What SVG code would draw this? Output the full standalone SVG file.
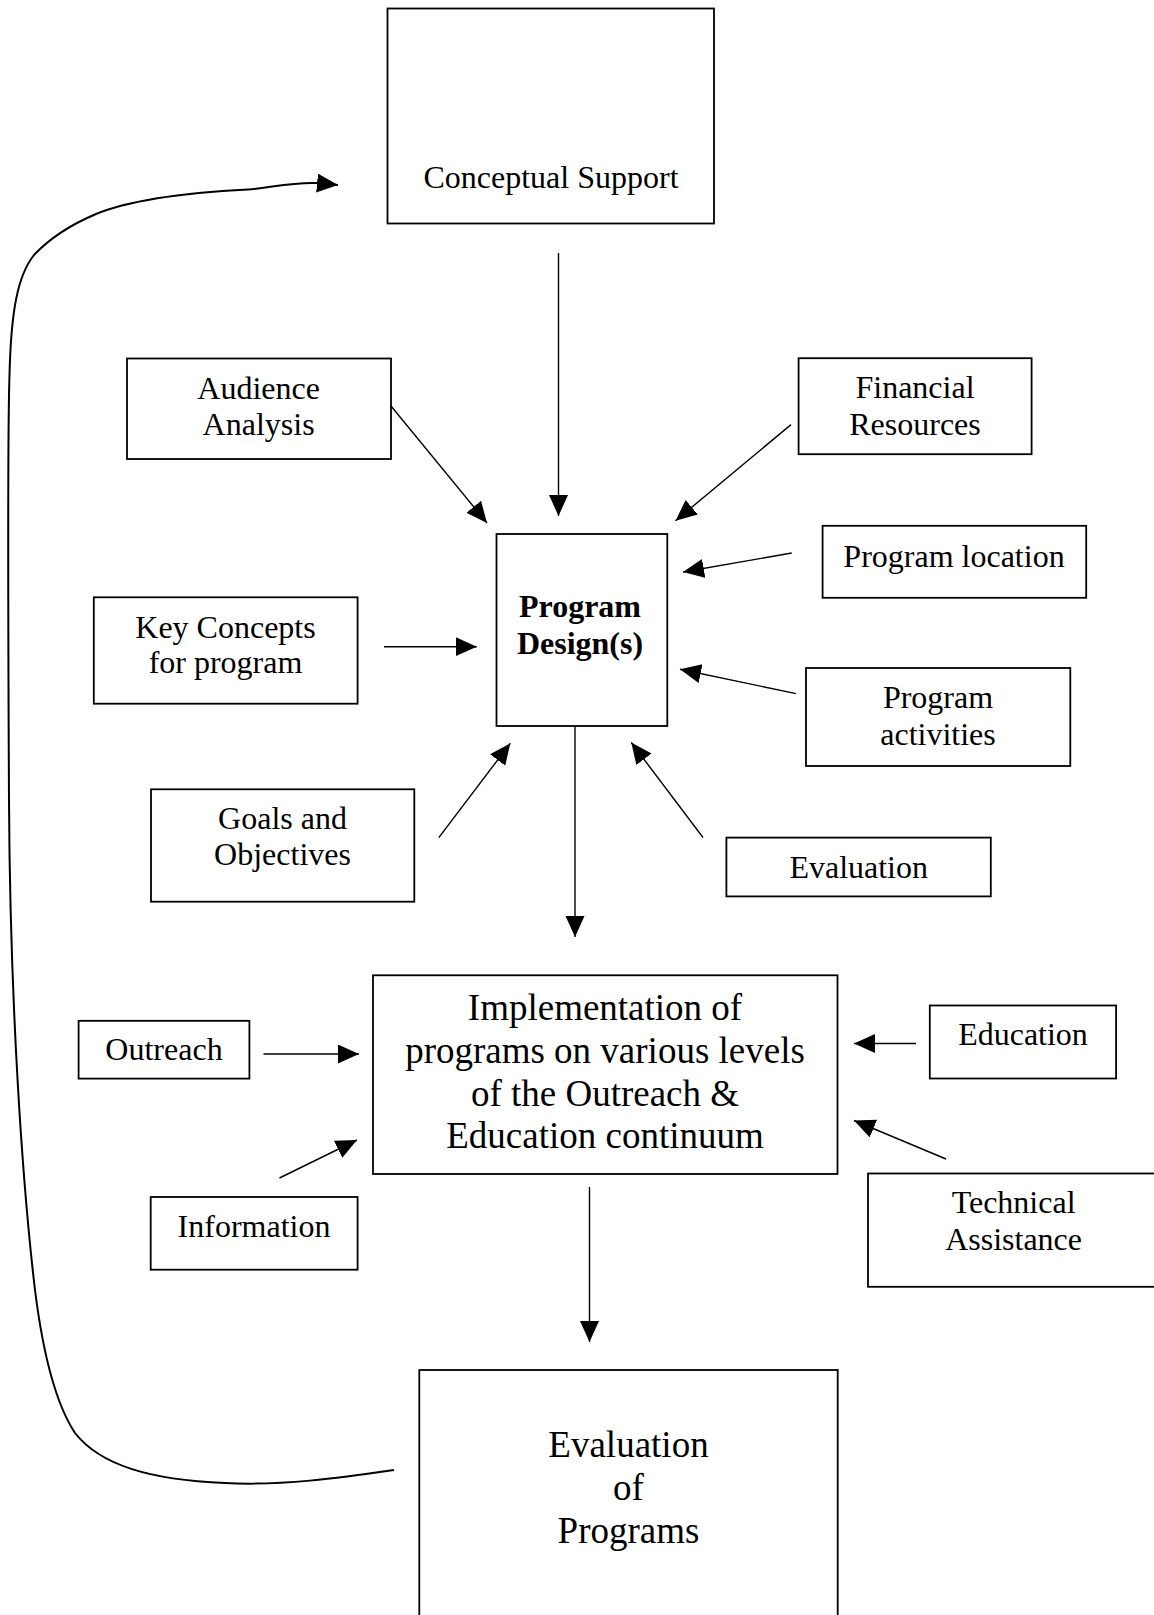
<svg xmlns="http://www.w3.org/2000/svg" width="1154" height="1615" viewBox="0 0 1154 1615">
<style>
.box{fill:#fff;stroke:#000;stroke-width:1.8}
.t{font-family:"Liberation Serif","Times New Roman",serif;font-size:32px;fill:#000;text-anchor:middle}
.tb{font-weight:bold}
.big{font-size:37px}
.c{stroke:#000;stroke-width:1.4;fill:none;marker-end:url(#ah)}
.fb{stroke:#000;stroke-width:2;fill:none;marker-end:url(#ah)}
</style>
<defs>
<marker id="ah" markerUnits="userSpaceOnUse" markerWidth="22" markerHeight="20" refX="21" refY="9.5" orient="auto">
<path d="M0,0 L21,9.5 L0,19 z" fill="#000"/>
</marker>
</defs>
<rect width="1154" height="1615" fill="#fff"/>
<g id="conceptual-support">
<rect class="box" x="387.5" y="8.5" width="326.5" height="215"/>
<text class="t" x="551" y="188">Conceptual Support</text>
</g>
<g id="audience-analysis">
<rect class="box" x="127" y="358.5" width="264" height="100.5"/>
<text class="t" x="258.6" y="399">Audience</text>
<text class="t" x="258.6" y="435">Analysis</text>
</g>
<g id="financial-resources">
<rect class="box" x="798.6" y="358.2" width="233" height="96"/>
<text class="t" x="915" y="398">Financial</text>
<text class="t" x="915" y="434.6">Resources</text>
</g>
<g id="program-location">
<rect class="box" x="822.6" y="525.8" width="263.6" height="72"/>
<text class="t" x="954" y="567">Program location</text>
</g>
<g id="program-design">
<rect class="box" x="496.5" y="534" width="170.8" height="192"/>
<text class="t tb" x="580" y="617">Program</text>
<text class="t tb" x="580" y="654">Design(s)</text>
</g>
<g id="key-concepts">
<rect class="box" x="93.8" y="597.3" width="263.8" height="106.4"/>
<text class="t" x="225.5" y="637.7">Key Concepts</text>
<text class="t" x="225.5" y="673.3">for program</text>
</g>
<g id="program-activities">
<rect class="box" x="806" y="668" width="264.3" height="98"/>
<text class="t" x="938" y="708">Program</text>
<text class="t" x="938" y="745.4">activities</text>
</g>
<g id="goals-objectives">
<rect class="box" x="151" y="789.3" width="263.3" height="112.4"/>
<text class="t" x="282.5" y="829.3">Goals and</text>
<text class="t" x="282.5" y="865">Objectives</text>
</g>
<g id="evaluation">
<rect class="box" x="726.4" y="837.6" width="264.4" height="58.8"/>
<text class="t" x="858.7" y="877.5">Evaluation</text>
</g>
<g id="implementation">
<rect class="box" x="373" y="975.3" width="464.5" height="198.7"/>
<text class="t big" x="605" y="1020">Implementation of</text>
<text class="t big" x="605" y="1062.7">programs on various levels</text>
<text class="t big" x="605" y="1105.7">of the Outreach &amp;</text>
<text class="t big" x="605" y="1148.3">Education continuum</text>
</g>
<g id="outreach">
<rect class="box" x="78.6" y="1020.8" width="170.8" height="57.8"/>
<text class="t" x="164" y="1060">Outreach</text>
</g>
<g id="education">
<rect class="box" x="929.8" y="1005.5" width="186.3" height="73"/>
<text class="t" x="1023" y="1045">Education</text>
</g>
<g id="technical-assistance">
<rect class="box" x="868" y="1173.5" width="300" height="113.3"/>
<text class="t" x="1013.6" y="1213.3">Technical</text>
<text class="t" x="1013.6" y="1250">Assistance</text>
</g>
<g id="information">
<rect class="box" x="150.7" y="1197" width="206.9" height="72.7"/>
<text class="t" x="254" y="1237">Information</text>
</g>
<g id="evaluation-of-programs">
<rect class="box" x="419.3" y="1370" width="418.4" height="260"/>
<text class="t big" x="628.5" y="1456.7">Evaluation</text>
<text class="t big" x="628.5" y="1500">of</text>
<text class="t big" x="628.5" y="1543.3">Programs</text>
</g>
<g id="connectors">
<line class="c" x1="558.5" y1="253" x2="558.5" y2="516"/>
<line class="c" x1="391" y1="406" x2="487" y2="523"/>
<line class="c" x1="791" y1="424.6" x2="675.6" y2="520.7"/>
<line class="c" x1="791.7" y1="553" x2="683" y2="572"/>
<line class="c" x1="796" y1="693.6" x2="680" y2="669.3"/>
<line class="c" x1="703" y1="837.5" x2="631.3" y2="742.5"/>
<line class="c" x1="438.8" y1="837.7" x2="510.3" y2="743.3"/>
<line class="c" x1="384" y1="646.7" x2="476.8" y2="646.7"/>
<line class="c" x1="575" y1="726" x2="575" y2="937"/>
<line class="c" x1="263.5" y1="1054" x2="359" y2="1054"/>
<line class="c" x1="916" y1="1043.5" x2="854" y2="1043.5"/>
<line class="c" x1="946" y1="1159" x2="854" y2="1120.5"/>
<line class="c" x1="279.5" y1="1178" x2="357" y2="1140"/>
<line class="c" x1="589.5" y1="1187" x2="589.5" y2="1342"/>
<path class="fb" d="M394,1470 C340,1478 280,1486 225,1483 C150,1480 100,1465 75,1433 C50,1395 40,1330 35,1290 C22,1180 10,1000 9,800 C8,600 8,420 9.5,375 C11,310 18,275 34,255 C50,238 70,225 96,214 C130,200 180,193 248,189.5 C270,188 290,182 317,183 L338,185"/>
</g>
</svg>
